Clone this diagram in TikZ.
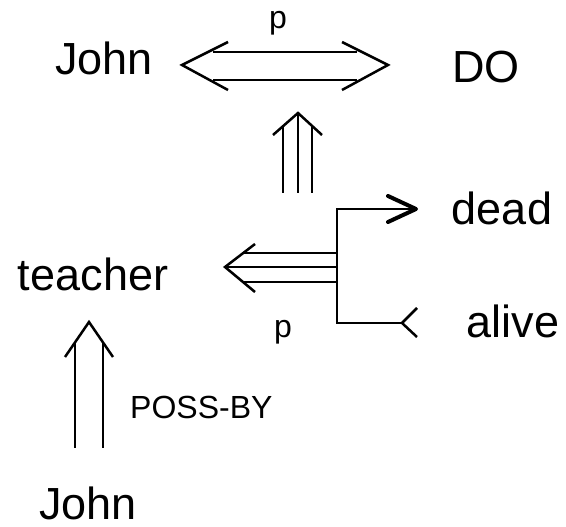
\documentclass[tikz,border=0pt]{standalone}
\usepackage{fontspec}
\setmainfont{Liberation Sans}
\begin{document}
\begin{tikzpicture}[x=1pt,y=-1pt,
  big/.style={font=\fontsize{45}{54}\selectfont,inner sep=0pt,anchor=base},
  small/.style={font=\fontsize{32}{38}\selectfont,inner sep=0pt,anchor=base},
  ln/.style={line width=2.5pt,line join=miter},
  thick head/.style={line width=4pt,line cap=round,line join=round}]
\useasboundingbox (0,0) rectangle (566,527);
% texts
\node[big] (john1) at (104,75) {John};
\node[big] (do) at (486,83) {DO};
\node[small] (p1) at (278,29) {p};
\node[big] (teacher) at (93,290) {teacher};
\node[big] (dead) at (502,225) {dead};
\node[big] (alive) at (513,337) {alive};
\node[small] (p2) at (283,337) {p};
\node[small,anchor=base west] (possby) at (130,418) {POSS-BY};
\node[big] (john2) at (88,519) {John};
% top double arrow John <=> DO
\coordinate (tl) at (182,65);
\coordinate (tr) at (388,65);
\draw[ln] (213,52) -- (357,52);
\draw[ln] (213,80) -- (357,80);
\draw[ln] (228,42) -- (tl) -- (228,90);
\draw[ln] (342,42) -- (tr) -- (342,90);
% vertical triple arrow
\coordinate (vt) at (298,113);
\draw[ln] (vt) -- (298,193);
\draw[ln] (283,127) -- (283,193);
\draw[ln] (312,125) -- (312,193);
\draw[ln] (273,135) -- (vt) -- (322,135);
% left triple arrow to teacher
\coordinate (lt) at (225,267);
\draw[ln] (lt) -- (337,267);
\draw[ln] (243,253) -- (337,253);
\draw[ln] (243,282) -- (337,282);
\draw[ln] (255,244) -- (lt) -- (255,292);
% bracket to dead / alive
\coordinate (dtip) at (416,209);
\coordinate (afork) at (402,323);
\draw[ln,line join=miter] (dtip) -- (337,209) -- (337,323) -- (afork);
\draw[thick head] (388,196) -- (dtip) -- (388,222);
\draw[ln] (417,308) -- (afork) -- (417,337);
% lower double arrow John => teacher
\coordinate (bt) at (89,322);
\draw[ln] (75,342) -- (75,448);
\draw[ln] (103,342) -- (103,448);
\draw[ln] (65,357) -- (bt) -- (113,357);
\end{tikzpicture}
\end{document}
